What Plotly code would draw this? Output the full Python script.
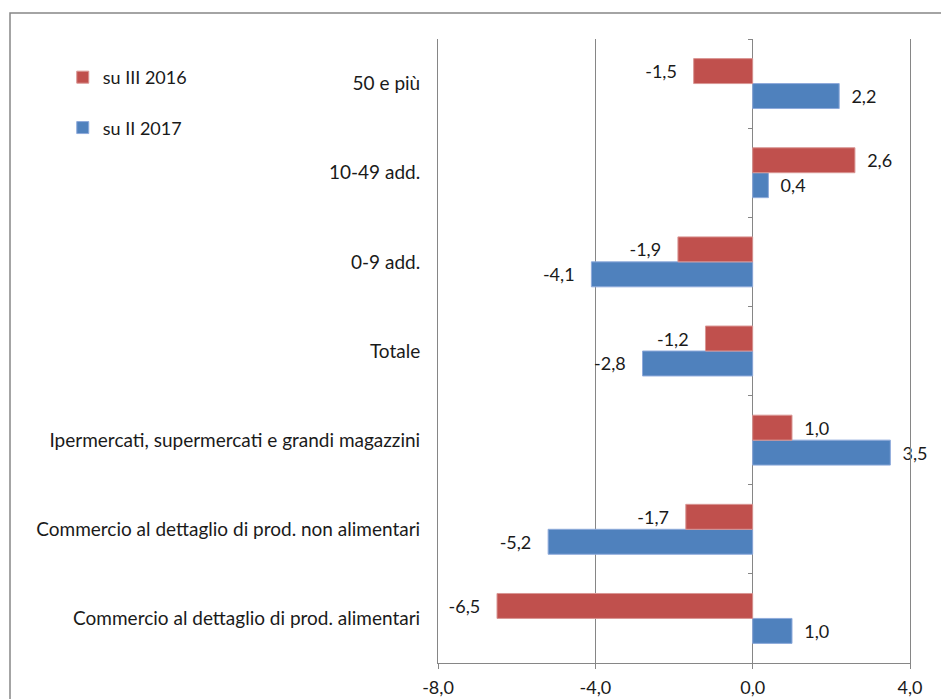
import plotly.graph_objects as go

categories = [
    "Commercio al dettaglio di prod. alimentari",
    "Commercio al dettaglio di prod. non alimentari",
    "Ipermercati, supermercati e grandi magazzini",
    "Totale",
    "0-9 add.",
    "10-49 add.",
    "50 e più",
]
su_III_2016 = [-6.5, -1.7, 1.0, -1.2, -1.9, 2.6, -1.5]
su_II_2017 = [1.0, -5.2, 3.5, -2.8, -4.1, 0.4, 2.2]
x_ticks = [-8, -4, 0, 4]
x_tick_labels = ["-8,0", "-4,0", "0,0", "4,0"]

RED = "#C0504D"
BLUE = "#4F81BD"
GRID = "#868686"
FONT = "Lato"
TXT = "#1a1a1a"
NB = "\u00a0"


def labels(vals):
    out = []
    for v in vals:
        s = f"{v:.1f}".replace(".", ",")
        out.append(s + NB * 3 if v < 0 else NB * 2 + s)
    return out


fig = go.Figure()
fig.add_trace(go.Bar(
    y=categories, x=su_II_2017, orientation="h", name="su II 2017",
    marker=dict(color=BLUE, line=dict(color="#8EAADB", width=1)),
    text=labels(su_II_2017), textposition="outside", cliponaxis=False,
    constraintext="none",
    textfont=dict(family=FONT, size=18, color=TXT),
    legendgroup="b", legendrank=2,
))
fig.add_trace(go.Bar(
    y=categories, x=su_III_2016, orientation="h", name="su III 2016",
    marker=dict(color=RED, line=dict(color="#D99694", width=1)),
    text=labels(su_III_2016), textposition="outside", cliponaxis=False,
    constraintext="none",
    textfont=dict(family=FONT, size=18, color=TXT),
    legendgroup="a", legendrank=1,
))
# invisible trace carrying the boundary ticks drawn on the zero line
fig.add_trace(go.Scatter(
    y=categories, x=su_II_2017, yaxis="y2", mode="none",
    showlegend=False, hoverinfo="skip",
))

fig.update_layout(
    width=941, height=699,
    margin=dict(l=438, r=31, t=39, b=36, autoexpand=False),
    paper_bgcolor="white", plot_bgcolor="white",
    barmode="group", bargap=0.44, bargroupgap=0,
    font=dict(family=FONT, size=18, color=TXT),
    showlegend=True,
    legend=dict(
        x=-0.795, y=0.968, xanchor="left", yanchor="top",
        traceorder="grouped", tracegroupgap=24,
        font=dict(family=FONT, size=18, color=TXT),
        itemwidth=30, bgcolor="rgba(0,0,0,0)",
    ),
    xaxis=dict(
        range=[-8, 4], tickvals=x_ticks, ticktext=x_tick_labels,
        showgrid=True, gridcolor=GRID, gridwidth=1,
        zeroline=True, zerolinecolor=GRID, zerolinewidth=1,
        showline=True, linecolor=GRID, linewidth=1,
        ticks="outside", ticklen=5, tickcolor=GRID, ticklabelstandoff=3,
        tickfont=dict(family=FONT, size=18, color=TXT),
        automargin=False, fixedrange=True,
    ),
    yaxis=dict(
        type="category", categoryorder="array", categoryarray=categories,
        range=[-0.5, 6.5], showgrid=False, zeroline=False,
        showline=True, mirror=True, linecolor=GRID, linewidth=1,
        ticks="", ticklabelstandoff=13,
        tickfont=dict(family=FONT, size=19, color=TXT),
        automargin=False, fixedrange=True,
    ),
    yaxis2=dict(
        type="category", categoryorder="array", categoryarray=categories,
        range=[-0.5, 6.5], overlaying="y", anchor="free",
        position=(0 - (-8)) / (4 - (-8)),
        showgrid=False, zeroline=False, showline=False,
        ticks="outside", ticklen=5, tickcolor=GRID, tickson="boundaries",
        showticklabels=False, automargin=False, fixedrange=True,
    ),
    shapes=[dict(
        type="rect", xref="paper", yref="paper",
        x0=(10 - 438) / 472, x1=(950 - 438) / 472,
        y0=(663 - 710) / 624, y1=(663 - 13) / 624,
        line=dict(color=GRID, width=1.5), fillcolor="rgba(0,0,0,0)",
        layer="below",
    )],
)

fig.write_html(
    "out.html",
    config={"displayModeBar": False},
    post_script="document.body.style.margin='0';document.body.style.overflow='hidden';",
)
